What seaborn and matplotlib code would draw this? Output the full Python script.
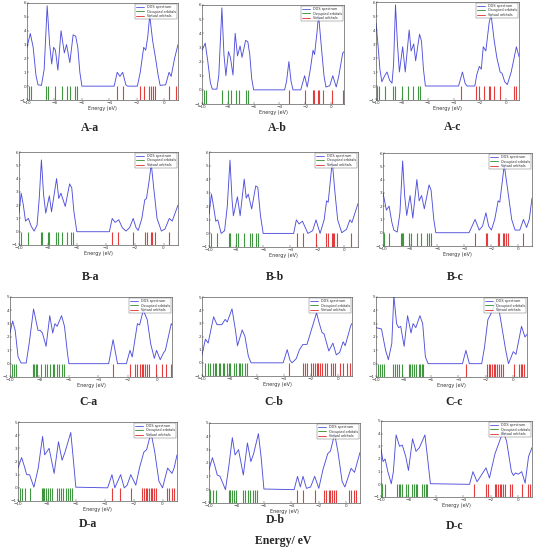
import matplotlib
matplotlib.use("Agg")
import matplotlib.pyplot as plt
from matplotlib.lines import Line2D
import seaborn as sns

sns.set_theme(style="ticks")
plt.rcParams['font.family'] = ['DejaVu Sans']

# ---- DOS curves (energy in eV, density) and orbital energies, read per panel ----
aa_energy = [-10, -9.76, -9.55, -9.35, -9.2, -8.95, -8.75, -8.53, -8.35, -8.2, -8.06, -7.93, -7.75, -7.52,
             -7.28, -7.12, -6.88, -6.64, -6.45, -6.3, -6.15, -6.0, -3.65, -3.43, -3.23, -3.03, -2.8, -2.67,
             -1.96, -1.75, -1.5, -1.35, -1.2, -1.06, -0.85, -0.6, -0.45, -0.3, 0.1, 0.35, 0.5, 0.75, 1.0]
aa_dos = [2.8, 3.8, 2.8, 0.8, 0.1, 0.05, 1.2, 5.8, 3.0, 1.6, 2.8, 2.6, 1.15, 4.0,
          2.4, 3.0, 1.7, 3.7, 3.6, 2.8, 1.0, 0.0, 0.0, 1.0, 0.7, 1.0, 0.1, 0.0,
          0.0, 1.0, 2.8, 2.6, 3.6, 5.1, 3.3, 1.8, 0.8, 0.05, 0.1, 1.0, 0.7, 2.0, 3.0]
aa_occ = [-9.88, -9.72, -8.58, -8.46, -7.99, -7.45, -7.09, -6.86, -6.5, -6.34]
aa_virt = [-3.43, -3.03, -1.77, -1.49, -1.13, -0.97, -0.83, -0.71, 0.35, 0.87]

ab_energy = [-10, -9.75, -9.55, -9.35, -9.2, -8.85, -8.7, -8.46, -8.3, -8.15, -7.95, -7.8, -7.6, -7.43,
             -7.25, -7.05, -6.9, -6.62, -6.45, -6.3, -6.15, -6.0, -3.6, -3.45, -3.27, -3.1, -2.95, -2.35,
             -2.2, -2.05, -1.85, -1.6, -1.4, -1.28, -1.1, -0.97, -0.75, -0.55, -0.4, -0.1, 0.13, 0.4, 0.6, 0.9, 1.0]
ab_dos = [2.8, 3.3, 2.0, 0.5, 0.05, 0.05, 1.0, 5.8, 2.5, 1.0, 2.7, 2.3, 1.05, 4.0,
          2.4, 3.1, 2.3, 3.5, 3.4, 2.5, 0.8, 0.0, 0.0, 0.6, 2.0, 0.6, 0.0, 0.0,
          0.5, 1.0, 0.2, 1.5, 2.8, 2.5, 4.0, 5.3, 3.0, 1.0, 0.2, 0.3, 1.0, 0.2, 1.0, 2.6, 2.7]
ab_occ = [-9.87, -9.69, -8.46, -7.95, -7.77, -7.38, -7.1, -6.62, -6.41]
ab_virt = [-3.26, -2.03, -1.41, -1.33, -1.03, -0.9, -0.64, 0.08, 0.9]

ac_energy = [-10, -9.85, -9.7, -9.55, -9.35, -9.15, -8.95, -8.77, -8.65, -8.5, -8.35, -8.2, -7.95, -7.75,
             -7.45, -7.3, -7.1, -6.95, -6.65, -6.5, -6.35, -6.2, -3.65, -3.35, -3.15, -3.0, -2.4, -2.25,
             -2.05, -1.9, -1.75, -1.55, -1.3, -1.15, -0.9, -0.7, -0.45, -0.3, -0.1, 0.1, 0.4, 0.8, 1.0]
ac_dos = [4.5, 3.0, 1.2, 0.3, 0.7, 1.0, 0.4, 0.2, 1.5, 5.8, 3.0, 1.0, 2.8, 1.0,
          4.0, 2.5, 3.0, 1.8, 3.7, 3.2, 1.2, 0.0, 0.0, 1.0, 0.2, 0.0, 0.0, 0.8,
          1.4, 1.2, 2.8, 2.5, 4.5, 5.1, 3.2, 2.0, 1.0, 0.9, 0.3, 0.1, 1.0, 2.8, 2.1]
ac_occ = [-9.92, -9.8, -9.29, -8.66, -8.53, -8.03, -7.52, -7.14, -6.76, -6.58]
ac_virt = [-3.47, -2.28, -2.08, -1.7, -1.32, -1.24, -0.94, -0.43, 0.63, 0.76]

ba_energy = [-10, -9.85, -9.7, -9.55, -9.35, -9.15, -8.95, -8.75, -8.6, -8.45, -8.3, -8.15, -7.9, -7.75,
             -7.4, -7.25, -7.1, -6.8, -6.5, -6.35, -6.2, -6.0, -3.75, -3.55, -3.35, -3.1, -2.85, -2.6,
             -2.35, -2.1, -1.9, -1.75, -1.5, -1.3, -1.18, -1.0, -0.85, -0.65, -0.45, -0.15, 0.1, 0.4, 0.6, 1.0]
ba_dos = [1.4, 2.9, 2.0, 0.8, 1.0, 0.4, 0.05, 0.5, 2.5, 5.4, 2.8, 1.4, 2.7, 1.5,
          4.0, 2.5, 2.9, 1.9, 3.6, 3.3, 1.5, 0.0, 0.0, 1.0, 0.7, 0.9, 0.3, 0.05,
          0.3, 1.0, 0.3, 0.1, 1.0, 2.4, 2.5, 3.8, 5.1, 3.0, 1.0, 0.05, 0.2, 1.0, 0.8, 2.0]
ba_occ = [-9.86, -9.4, -8.48, -8.39, -8.02, -7.93, -7.47, -7.33, -7.01, -6.71, -6.37, -6.25]
ba_virt = [-3.54, -3.15, -2.11, -1.31, -1.15, -0.9, -0.8, -0.62, 0.41, 0.99]

bb_energy = [-10, -9.82, -9.65, -9.5, -9.35, -9.1, -8.85, -8.65, -8.45, -8.3, -8.2, -7.9, -7.7, -7.4,
             -7.25, -7.1, -6.85, -6.55, -6.4, -6.2, -6.0, -3.75, -3.55, -3.35, -3.1, -2.7, -2.35, -2.1,
             -1.8, -1.5, -1.32, -1.2, -1.05, -0.9, -0.7, -0.5, -0.2, 0.15, 0.4, 0.55, 1.0]
bb_dos = [1.4, 2.9, 1.9, 0.9, 1.0, 0.0, 0.2, 2.0, 5.4, 2.5, 1.3, 2.7, 1.3, 4.0,
          2.6, 2.9, 1.8, 3.5, 3.4, 1.3, 0.0, 0.0, 1.0, 0.7, 0.9, 0.0, 0.2, 1.0,
          0.0, 1.0, 2.4, 2.3, 3.8, 5.3, 3.0, 1.0, 0.05, 0.3, 1.0, 0.8, 2.2]
bb_occ = [-9.83, -9.41, -8.52, -8.42, -7.98, -7.85, -7.41, -6.99, -6.86, -6.54, -6.37]
bb_virt = [-3.53, -3.09, -2.12, -1.36, -1.19, -0.94, -0.86, -0.77, -0.57, 0.47, 1.0]

bc_energy = [-10, -9.75, -9.55, -9.35, -9.2, -8.95, -8.75, -8.55, -8.4, -8.25, -8.0, -7.8, -7.5, -7.33,
             -7.15, -6.95, -6.6, -6.45, -6.25, -6.1, -3.65, -3.2, -2.9, -2.65, -2.4, -2.2, -2.0, -1.75,
             -1.5, -1.38, -1.2, -1.05, -0.75, -0.5, -0.25, 0.1, 0.37, 0.6, 0.8, 1.0]
bc_dos = [3.0, 1.7, 2.0, 0.8, 0.2, 0.05, 1.5, 5.4, 2.8, 1.3, 2.8, 1.1, 4.0, 2.4,
          2.8, 1.8, 3.6, 3.2, 1.0, 0.0, 0.0, 1.0, 0.2, 0.5, 1.5, 0.5, 0.2, 1.0,
          2.4, 2.3, 3.8, 5.1, 2.9, 1.0, 0.2, 0.2, 1.0, 0.4, 1.0, 2.6]
bc_occ = [-9.95, -9.58, -8.66, -8.58, -8.51, -8.08, -7.96, -7.51, -7.16, -6.72, -6.6, -6.42]
bc_virt = [-3.23, -2.41, -2.29, -1.54, -1.44, -1.12, -1.04, -0.94, -0.75, 0.37, 1.0]

ca_energy = [-10, -9.82, -9.65, -9.45, -9.25, -8.9, -8.7, -8.4, -8.1, -7.95, -7.8, -7.55, -7.3, -7.1,
             -6.95, -6.8, -6.5, -6.3, -6.1, -6.0, -3.3, -3.0, -2.7, -2.1, -1.85, -1.7, -1.35, -1.2,
             -0.95, -0.68, -0.45, -0.2, -0.05, 0.2, 0.42, 0.55, 0.95, 1.0]
ca_dos = [2.3, 3.2, 2.5, 0.5, 0.05, 0.05, 1.5, 4.1, 2.5, 2.5, 2.3, 1.3, 3.6, 2.3,
          3.0, 2.8, 3.6, 2.8, 0.8, 0.0, 0.0, 1.8, 0.0, 0.0, 1.0, 0.5, 3.0, 2.9,
          4.0, 3.3, 1.5, 0.4, 1.0, 0.3, 0.8, 1.0, 3.0, 2.9]
ca_occ = [-9.89, -9.73, -9.59, -8.45, -8.36, -8.23, -8.14, -7.91, -7.61, -7.5, -7.27, -7.11, -7.0,
          -6.82, -6.64, -6.48, -6.32]
ca_virt = [-3.0, -1.86, -1.48, -1.36, -1.14, -1.07, -0.95, -0.86, -0.68, -0.57, -0.11, 0.34, 0.61, 0.95]

cb_energy = [-10, -9.75, -9.55, -9.15, -8.9, -8.55, -8.3, -8.15, -7.8, -7.55, -7.4, -7.05, -6.85, -6.6,
             -6.4, -4.05, -3.75, -3.55, -3.4, -3.1, -2.85, -2.6, -2.3, -1.6, -1.4, -1.2, -1.05, -0.7,
             -0.4, -0.15, 0.1, 0.35, 0.5, 0.9, 1.0]
cb_dos = [0.6, 1.8, 1.5, 3.5, 2.9, 2.9, 3.3, 3.1, 4.1, 2.5, 1.3, 2.5, 2.0, 0.5,
          0.0, 0.0, 1.0, 0.2, 0.0, 0.3, 1.0, 1.4, 1.4, 3.8, 3.0, 2.3, 2.2, 0.9,
          1.5, 0.6, 0.8, 1.6, 1.3, 2.8, 3.0]
cb_occ = [-9.76, -9.59, -9.39, -9.22, -9.07, -8.95, -8.78, -8.66, -8.46, -8.37, -8.17, -8.05, -7.93,
          -7.68, -7.51, -7.32, -7.2, -7.07, -6.83, -6.71]
cb_virt = [-3.59, -2.56, -2.44, -2.27, -2.02, -1.88, -1.71, -1.59, -1.46, -1.34, -1.22, -0.98, -0.85,
           -0.56, -0.37, -0.24, 0.12, 0.37, 0.61, 0.85]

cc_energy = [-10, -9.6, -9.3, -9.1, -8.85, -8.7, -8.5, -8.35, -8.2, -7.95, -7.7, -7.45, -7.3, -7.1,
             -6.8, -6.6, -6.4, -6.2, -3.7, -3.45, -3.2, -2.3, -2.1, -1.85, -1.65, -1.3, -1.0, -0.55,
             -0.35, 0.0, 0.2, 0.6, 0.85, 1.0]
cc_dos = [2.7, 2.6, 1.0, 0.3, 1.5, 5.1, 3.0, 2.7, 2.8, 1.3, 3.6, 2.3, 3.0, 2.7,
          3.6, 3.0, 0.5, 0.0, 0.0, 1.0, 0.0, 0.0, 1.2, 3.3, 3.7, 4.6, 3.8, 1.0,
          0.0, 0.9, 0.7, 2.8, 2.0, 2.2]
cc_occ = [-9.83, -9.71, -9.54, -9.41, -8.73, -8.61, -8.44, -8.29, -8.12, -7.63, -7.51, -7.39, -7.22,
          -7.07, -6.9, -6.78, -6.66, -6.54]
cc_virt = [-3.45, -1.95, -1.78, -1.66, -1.54, -1.42, -1.3, -1.18, -1.05, -0.93, -0.76, 0.05, 0.41,
           0.54, 0.66, 0.78]

da_energy = [-10, -9.75, -9.55, -9.4, -9.2, -8.9, -8.6, -8.3, -8.15, -7.85, -7.5, -7.2, -6.95, -6.75,
             -6.35, -6.2, -6.0, -3.8, -3.5, -3.3, -2.9, -2.65, -2.45, -2.2, -1.85, -1.6, -1.3, -1.1,
             -0.8, -0.55, -0.25, 0.0, 0.35, 0.65, 0.8, 1.0]
da_dos = [1.5, 2.3, 1.6, 1.0, 1.0, 0.05, 1.5, 3.9, 2.5, 3.0, 1.1, 3.5, 2.1, 2.7,
          4.2, 2.5, 0.05, 0.0, 1.0, 0.0, 1.0, 0.0, 0.2, 1.0, 0.2, 1.5, 2.7, 2.9,
          4.2, 2.8, 0.5, 0.0, 1.5, 1.1, 1.5, 2.5]
da_occ = [-9.84, -9.7, -9.53, -9.19, -8.37, -8.3, -8.21, -8.07, -7.91, -7.79, -7.67, -7.28, -7.14,
          -7.02, -6.86, -6.67, -6.51, -6.4, -6.28]
da_virt = [-3.49, -2.91, -2.21, -1.4, -1.28, -1.16, -1.05, -0.93, -0.81, -0.7, -0.58, -0.47, 0.3,
           0.47, 0.63, 0.81]

db_energy = [-10, -9.75, -9.55, -9.4, -9.2, -8.8, -8.55, -8.3, -8.1, -7.85, -7.5, -7.2, -6.95, -6.75,
             -6.4, -6.2, -6.0, -3.8, -3.55, -3.35, -3.15, -2.9, -2.6, -2.3, -2.0, -1.7, -1.35, -1.15,
             -0.85, -0.6, -0.3, -0.1, 0.35, 0.6, 1.0]
db_dos = [1.5, 2.4, 1.7, 1.1, 1.0, 0.0, 1.8, 3.9, 2.6, 3.0, 1.1, 3.5, 2.1, 2.7,
          4.2, 2.4, 0.05, 0.0, 1.0, 0.2, 1.0, 0.1, 0.2, 1.0, 0.1, 1.5, 2.7, 2.9,
          4.2, 2.8, 0.6, 0.2, 1.6, 1.3, 2.8]
db_occ = [-9.9, -9.71, -9.46, -8.54, -8.44, -8.32, -8.2, -8.0, -7.51, -7.39, -7.15, -6.98, -6.78,
          -6.66, -6.49]
db_virt = [-3.61, -3.12, -2.27, -1.61, -1.49, -1.29, -1.17, -1.05, -0.88, -0.76, 0.17, 0.34, 0.54, 0.73]

dc_energy = [-10, -9.85, -9.7, -9.5, -9.25, -9.1, -8.9, -8.65, -8.45, -8.2, -8.0, -7.7, -7.45, -7.2,
             -6.8, -6.6, -6.4, -3.55, -3.3, -3.0, -2.35, -2.1, -1.7, -1.5, -1.1, -0.85, -0.5, -0.35,
             -0.2, 0.0, 0.25, 0.5, 0.75, 1.0]
dc_dos = [2.8, 1.8, 2.0, 1.0, 0.05, 1.0, 3.9, 3.0, 3.1, 2.2, 1.1, 3.6, 2.6, 2.9,
          3.9, 2.0, 0.05, 0.0, 1.0, 0.2, 1.3, 0.5, 2.4, 3.0, 4.2, 3.4, 1.0, 0.7,
          0.9, 0.8, 1.0, 0.1, 2.2, 2.9]
dc_occ = [-9.93, -9.68, -8.82, -8.7, -8.58, -8.46, -8.21, -8.04, -7.72, -7.6, -7.48, -7.35, -7.03,
          -6.86, -6.74, -6.62]
dc_virt = [-3.24, -2.33, -2.21, -1.72, -1.59, -1.47, -1.35, -1.23, -1.1, -0.98, -0.61, -0.44, 0.25,
           0.74, 0.86, 0.98]

panel_names = ["A-a", "A-b", "A-c", "B-a", "B-b", "B-c", "C-a", "C-b", "C-c", "D-a", "D-b", "D-c"]
panel_ymax = [6, 6, 6, 6, 6, 6, 5, 5, 5, 5, 5, 5]
legend_labels = ["DOS spectrum", "Occupied orbitals", "Virtual orbitals"]
x_ticks = [-10, -8, -6, -4, -2, 0]

panel_data = [
    (aa_energy, aa_dos, aa_occ, aa_virt), (ab_energy, ab_dos, ab_occ, ab_virt),
    (ac_energy, ac_dos, ac_occ, ac_virt), (ba_energy, ba_dos, ba_occ, ba_virt),
    (bb_energy, bb_dos, bb_occ, bb_virt), (bc_energy, bc_dos, bc_occ, bc_virt),
    (ca_energy, ca_dos, ca_occ, ca_virt), (cb_energy, cb_dos, cb_occ, cb_virt),
    (cc_energy, cc_dos, cc_occ, cc_virt), (da_energy, da_dos, da_occ, da_virt),
    (db_energy, db_dos, db_occ, db_virt), (dc_energy, dc_dos, dc_occ, dc_virt),
]

# axes boxes in pixels: left, top, right, bottom ; caption centres
boxes = [(27, 3, 178, 100), (202, 5, 344, 104), (376, 2, 519, 100),
         (19, 152, 178, 245), (209, 152, 358, 247), (383, 153, 532, 246),
         (10, 297, 172, 377), (202, 297, 352, 376), (376, 297, 527, 377),
         (18, 422, 177, 501), (209, 423, 360, 503), (381, 421, 532, 497)]
captions = [(90, 128), (277, 128), (453, 127),
            (91, 277), (275, 277), (455, 277),
            (88, 402), (274, 402), (454, 402),
            (88, 524), (275, 520), (454, 526)]

W, H = 535, 549
fig = plt.figure(figsize=(W / 100, H / 100), dpi=100)
fig.patch.set_facecolor('white')

BLUE, GREEN, RED = '#5050dc', '#2c8c2c', '#e02828'

for name, ymax, (en, dos, occ, virt), (l, t, r, b), (cx, cy) in zip(
        panel_names, panel_ymax, panel_data, boxes, captions):
    ax = fig.add_axes([l / W, 1 - b / H, (r - l) / W, (b - t) / H])
    ax.vlines(occ, -1, 0, colors=GREEN, lw=0.8, alpha=0.9)
    ax.vlines(virt, -1, 0, colors=RED, lw=0.8, alpha=0.9)
    sns.lineplot(x=en, y=dos, ax=ax, color=BLUE, lw=0.65, estimator=None, sort=False)
    ax.set_xlim(-10, 1)
    ax.set_ylim(-1, ymax)
    ax.set_xticks(x_ticks)
    ax.set_yticks(list(range(-1, ymax + 1)))
    ax.tick_params(labelsize=3, length=1.5, width=0.3, pad=0.8, direction='in', colors='#333333')
    for s in ax.spines.values():
        s.set_linewidth(0.4)
        s.set_color('#333333')
    ax.set_xlabel("Energy (eV)", fontsize=3.5, labelpad=0.8, color='#333333')
    ax.set_ylabel("")
    handles = [Line2D([], [], color=c, lw=0.6) for c in (BLUE, GREEN, RED)]
    leg = ax.legend(handles, legend_labels, loc='upper right', fontsize=2.4, frameon=True,
                    fancybox=False, handlelength=2.5, borderpad=0.3, labelspacing=0.15,
                    borderaxespad=0.3)
    leg.get_frame().set_linewidth(0.3)
    leg.get_frame().set_edgecolor('#333333')
    fig.text(cx / W, 1 - cy / H, name, ha='center', va='center', fontsize=8.5,
             fontweight='bold', family='Liberation Serif')

fig.text(283 / W, 1 - 547 / H, "Energy/ eV", ha='center', va='bottom', fontsize=8.5,
         fontweight='bold', family='Liberation Serif')

fig.savefig("out.png", dpi=100)
